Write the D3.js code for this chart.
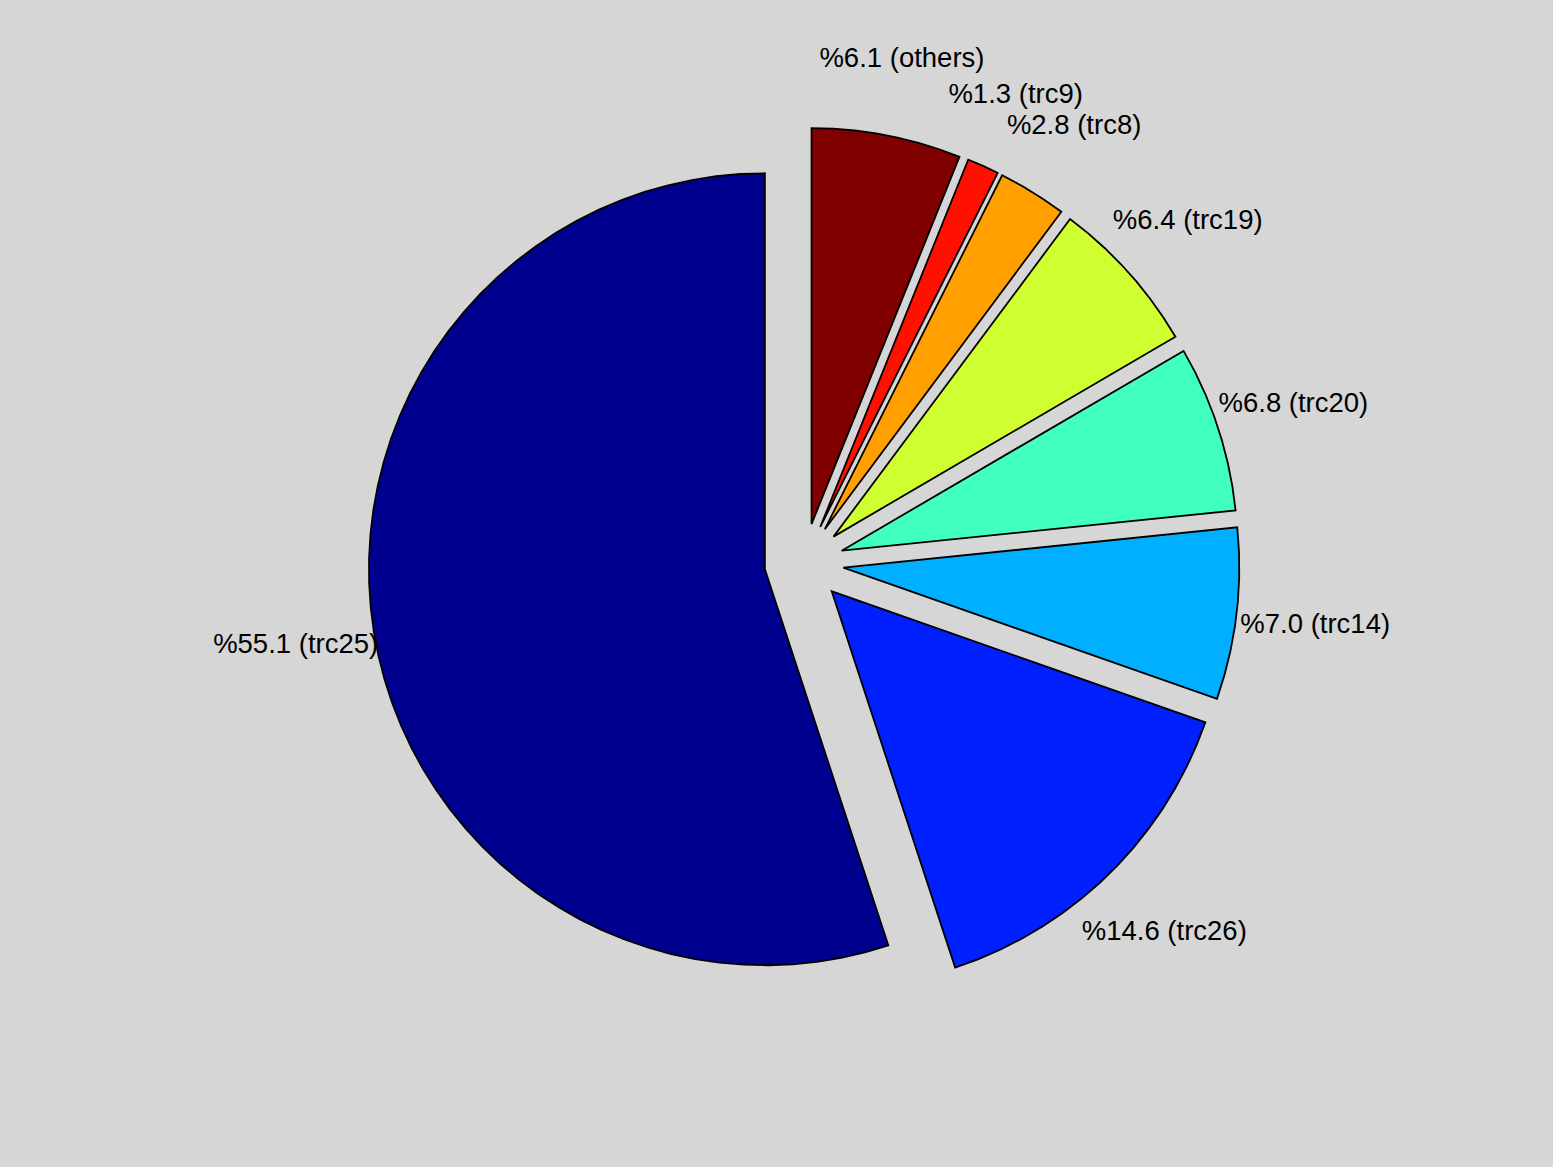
<!DOCTYPE html>
<html>
<head>
<meta charset="utf-8">
<script src="https://cdn.jsdelivr.net/npm/d3@7"></script>
<style>
  html, body { margin: 0; padding: 0; background: #d6d6d6; }
  svg { display: block; }
</style>
</head>
<body>
<svg id="chart" width="1553" height="1167"></svg>
<script>
// ---- data ----
const categories = ["trc25", "trc26", "trc14", "trc20", "trc19", "trc8", "trc9", "others"];
const percents   = [55.1, 14.6, 7.0, 6.8, 6.4, 2.8, 1.3, 6.1];
const colors     = ["#00008f", "#0020ff", "#00afff", "#40ffbf", "#cfff30", "#ff9f00", "#ff1000", "#800000"];

// ---- layout ----
const W = 1553, H = 1167;
const cx = 804, cy = 563, R = 396;
const explode = 0.1, labelR = 1.2;
const fontSize = 27.5;

const svg = d3.select("#chart");
svg.append("rect").attr("width", W).attr("height", H).attr("fill", "#d6d6d6");

const g = svg.append("g").attr("transform", `translate(${cx},${cy})`);
const rScale = d3.scaleLinear().domain([0, 1]).range([0, R]);
const total = d3.sum(percents);

const pie = d3.pie().sort(null).value(d => d.v).startAngle(0).endAngle(-2 * Math.PI);
const data = categories.map((c, i) => ({ c, v: percents[i], col: colors[i] }));
const arcs = pie(data);

const radial = d3.lineRadial().angle(p => p[0]).radius(p => rScale(p[1]));

arcs.forEach(a => {
  const frac = a.data.v / total;
  const n = Math.max(1, Math.ceil(100 * frac));
  const pts = [[a.startAngle, 0]];
  for (let k = 0; k <= n; k++) {
    pts.push([a.startAngle + (a.endAngle - a.startAngle) * k / n, 1]);
  }
  pts.push([a.endAngle, 0]);
  const mid = (a.startAngle + a.endAngle) / 2;
  const ox = Math.sin(mid) * rScale(explode), oy = -Math.cos(mid) * rScale(explode);

  g.append("path")
    .attr("d", radial(pts) + "Z")
    .attr("transform", `translate(${ox},${oy})`)
    .attr("fill", a.data.col)
    .attr("stroke", "#000")
    .attr("stroke-width", 1.8)
    .attr("stroke-linejoin", "miter");

  const lr = rScale(labelR + explode);
  g.append("text")
    .attr("x", Math.sin(mid) * lr)
    .attr("y", -Math.cos(mid) * lr + fontSize * 0.33)
    .attr("text-anchor", "middle")
    .attr("font-family", "Liberation Sans, Arial, Helvetica, sans-serif")
    .attr("font-size", fontSize)
    .attr("fill", "#000")
    .text(`%${a.data.v.toFixed(1)} (${a.data.c})`);
});
</script>
</body>
</html>
